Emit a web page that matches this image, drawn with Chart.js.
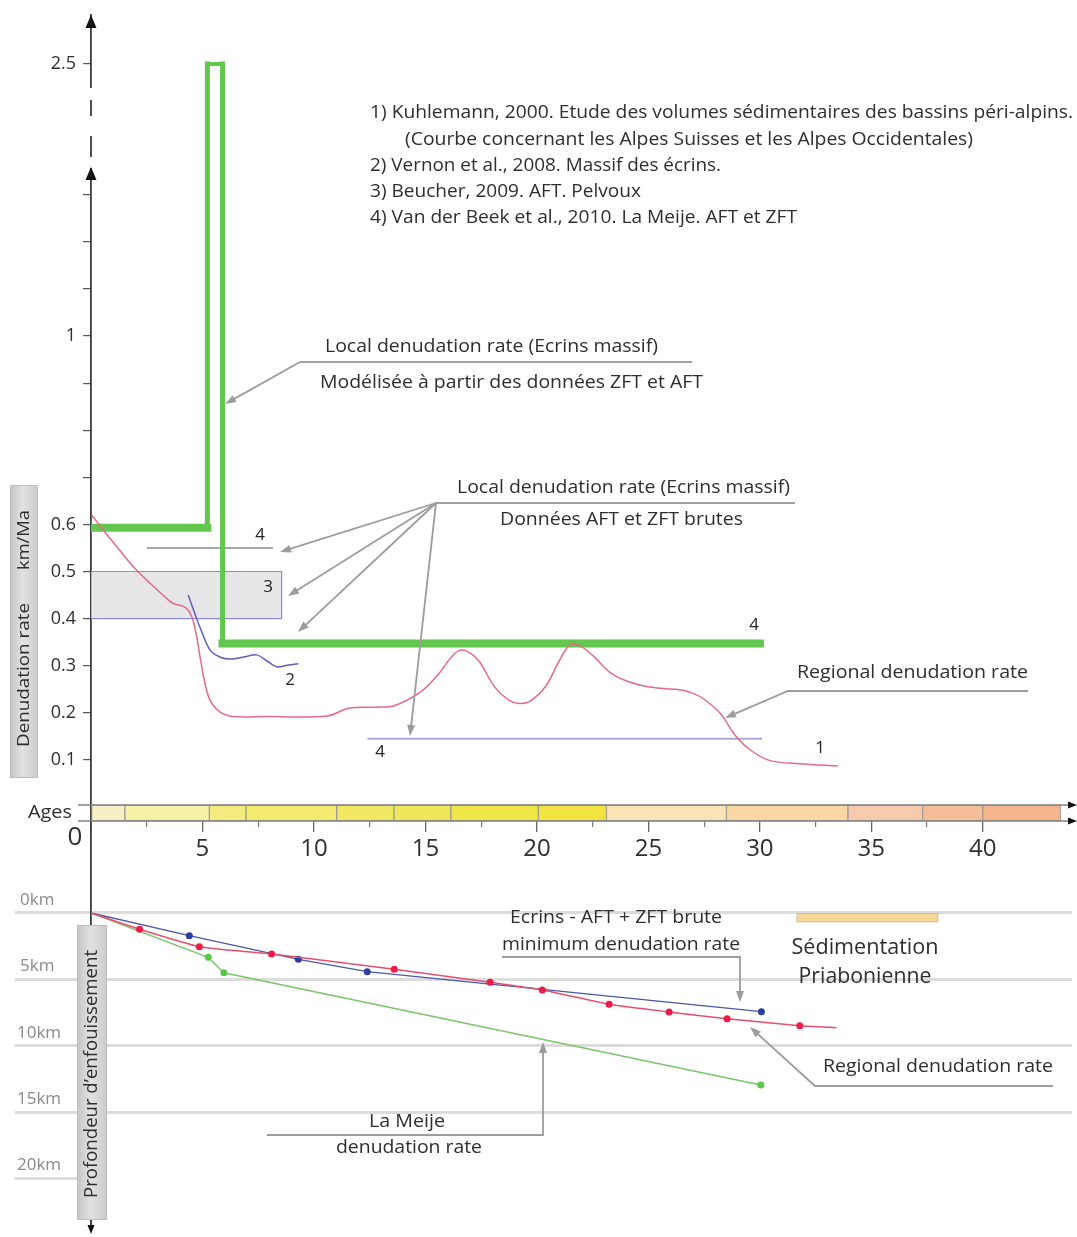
<!DOCTYPE html>
<html><head><meta charset="utf-8">
<script src="https://cdn.jsdelivr.net/npm/chart.js@4.4.1/dist/chart.umd.min.js"></script>
<style>html,body{margin:0;padding:0;background:#fff}canvas{display:block}</style>
</head><body>
<div style="width:1077px;height:1237px"><canvas id="c" width="1077" height="1237"></canvas></div>
<script>
const FONT = '"Open Sans", "Noto Sans", "DejaVu Sans", sans-serif';

// ---------------- data ----------------
// 1) Kuhlemann 2000 - regional denudation rate (km/Ma) vs age (Ma)
const regionalRateAges = [0.03, 0.55, 1.15, 1.9, 2.65, 3.39, 3.69, 4.22, 4.52, 4.74, 4.89, 5.11, 5.34, 5.78, 6.38, 7.88, 10.57, 11.6, 12.8, 13.6, 14.8, 15.6, 16.1, 16.5, 16.9, 17.4, 18.1, 18.7, 19.2, 19.7, 20.4, 21.0, 21.5, 22.0, 22.5, 23.3, 24.0, 24.7, 25.5, 26.4, 26.9, 27.4, 28.2, 28.9, 29.6, 30.5, 31.8, 33.5];
const regionalRateValues = [0.62, 0.588, 0.553, 0.51, 0.475, 0.443, 0.432, 0.424, 0.404, 0.362, 0.319, 0.263, 0.227, 0.202, 0.192, 0.192, 0.193, 0.21, 0.212, 0.215, 0.245, 0.283, 0.315, 0.332, 0.33, 0.31, 0.255, 0.228, 0.22, 0.225, 0.257, 0.31, 0.345, 0.34, 0.322, 0.285, 0.268, 0.258, 0.252, 0.249, 0.243, 0.232, 0.2, 0.152, 0.12, 0.098, 0.092, 0.087];
// 2) Vernon et al. 2008
const vernonAges = [4.36, 4.9, 5.34, 5.8, 6.23, 6.8, 7.43, 7.9, 8.33, 8.8, 9.3];
const vernonRates = [0.45, 0.38, 0.333, 0.318, 0.314, 0.318, 0.323, 0.31, 0.298, 0.301, 0.304];
// 3) Beucher 2009 (range box)
const beucherAges = [0, 8.55];
const beucherRates = [0.4, 0.5];
// 4) Van der Beek et al. 2010
const meijeAftAges = [2.5, 8.17];
const meijeAftRates = [0.55, 0.55];
const meijeLowAges = [12.4, 30.1];
const meijeLowRates = [0.145, 0.145];
// Modelled local denudation rate (Ecrins massif)
const modelAges = [0, 5.22, 5.22, 5.9, 5.9, 30.0];
const modelRates = [0.593, 0.593, 2.5, 2.5, 0.347, 0.347];
// Stratigraphic age band
const stageStarts = [0, 1.52, 5.31, 6.95, 11.02, 13.59, 16.14, 20.06, 23.12, 28.5, 33.95, 37.3, 40.0];
const stageEnds   = [1.52, 5.31, 6.95, 11.02, 13.59, 16.14, 20.06, 23.12, 28.5, 33.95, 37.3, 40.0, 43.5];
// Burial depth (km) vs age (Ma)
const regionalDepthAges = [0, 2.18, 4.86, 8.1, 13.6, 17.9, 20.24, 23.24, 25.93, 28.53, 31.79, 33.44];
const regionalDepthKm   = [0, 1.23, 2.54, 3.09, 4.24, 5.22, 5.80, 6.88, 7.46, 7.97, 8.49, 8.64];
const ecrinsDepthAges = [0, 4.41, 9.3, 12.39, 30.07];
const ecrinsDepthKm   = [0, 1.71, 3.49, 4.42, 7.44];
const meijeDepthAges = [0, 5.26, 5.96, 30.04];
const meijeDepthKm   = [0, 3.34, 4.50, 12.96];
const sedimentationAges = [31.65, 38.0];
const sedimentationDepthKm = 0.35;
// Tick values
const rateTicks = [0.1, 0.2, 0.3, 0.4, 0.5, 0.6, 0.7, 0.8, 0.9, 1, 1.1, 1.2, 1.3, 2.5];
const rateTickLabels = [0.1, 0.2, 0.3, 0.4, 0.5, 0.6, 1, 2.5];
const ageMajorTicks = [0, 5, 10, 15, 20, 25, 30, 35, 40];
const ageMinorTicks = [2.5, 7.5, 12.5, 17.5, 22.5, 27.5, 32.5, 37.5];
const depthTicks = [0, 5, 10, 15, 20];

// ---------------- styles ----------------
const stageColors = ['#f7f0c6', '#f6f1a8', '#f5ec80', '#f3ea6e', '#f2e864', '#f2e65a', '#f1e648', '#f1e440', '#fbe3b8', '#f9d8a3', '#f6cbab', '#f4be98', '#f4b58c'];

// ---------------- broken (compressed above 1.4) linear scale ----------------
const LinearScale = Chart.LinearScale || Chart.registry.getScale('linear');
const BREAK_AT = 1.4, BREAK_K = 0.1614;
class BrokenLinearScale extends LinearScale {
  fwd(v) { return v <= BREAK_AT ? v : BREAK_AT + (v - BREAK_AT) * BREAK_K; }
  inv(t) { return t <= BREAK_AT ? t : BREAK_AT + (t - BREAK_AT) / BREAK_K; }
  getPixelForValue(v) { return super.getPixelForValue(this.fwd(v)); }
  getValueForPixel(p) { return this.inv(super.getValueForPixel(p)); }
}
BrokenLinearScale.id = 'brokenLinear';
BrokenLinearScale.defaults = {};
Chart.register(BrokenLinearScale);

const pts = (xs, ys) => xs.map((x, i) => ({x, y: ys[i]}));
const boxPts = [
  {x: beucherAges[0], y: beucherRates[0]}, {x: beucherAges[1], y: beucherRates[0]},
  {x: beucherAges[1], y: beucherRates[1]}, {x: beucherAges[0], y: beucherRates[1]},
  {x: beucherAges[0], y: beucherRates[0]}
];

// ---------------- drawing helpers ----------------
function txt(ctx, s, x, y, size, w, align, color) {
  ctx.save();
  ctx.font = size + 'px ' + FONT;
  ctx.fillStyle = color || '#2e2e2e';
  ctx.textBaseline = 'middle';
  ctx.textAlign = 'left';
  const m = ctx.measureText(s).width;
  const ww = w || m;
  const k = ww / m;
  const left = align === 'center' ? x - ww / 2 : (align === 'right' ? x - ww : x);
  ctx.translate(left, y);
  ctx.scale(k, 1);
  ctx.fillText(s, 0, 0);
  ctx.restore();
}
function vtxt(ctx, s, cx, cy, size, w) {
  ctx.save(); ctx.translate(cx, cy); ctx.rotate(-Math.PI / 2);
  txt(ctx, s, 0, 0, size, w, 'center', '#2e2e2e');
  ctx.restore();
}
function poly(ctx, p, color, lw) {
  ctx.save(); ctx.strokeStyle = color; ctx.lineWidth = lw; ctx.beginPath();
  ctx.moveTo(p[0][0], p[0][1]);
  for (let i = 1; i < p.length; i++) ctx.lineTo(p[i][0], p[i][1]);
  ctx.stroke(); ctx.restore();
}
function head(ctx, tx, ty, fx, fy, len, hw, color) {
  const dx = tx - fx, dy = ty - fy, L = Math.hypot(dx, dy), ux = dx / L, uy = dy / L;
  const bx = tx - ux * len, by = ty - uy * len;
  ctx.save(); ctx.fillStyle = color; ctx.beginPath();
  ctx.moveTo(tx, ty); ctx.lineTo(bx - uy * hw, by + ux * hw); ctx.lineTo(bx + uy * hw, by - ux * hw);
  ctx.closePath(); ctx.fill(); ctx.restore();
}
function arrow(ctx, p, color, lw) {
  const c = color || '#9c9c9c';
  const n = p.length, a = p[n - 2], b = p[n - 1];
  const dx = b[0] - a[0], dy = b[1] - a[1], L = Math.hypot(dx, dy);
  const q = p.slice(0, n - 1).concat([[b[0] - dx / L * 8, b[1] - dy / L * 8]]);
  poly(ctx, q, c, lw || 1.8);
  head(ctx, b[0], b[1], a[0], a[1], 11, 4, c);
}
function vbox(ctx, x, y, w, h) {
  const g = ctx.createLinearGradient(x, 0, x + w, 0);
  g.addColorStop(0, '#c4c4c4'); g.addColorStop(0.45, '#e2e2e2'); g.addColorStop(1, '#cbcbcb');
  ctx.save(); ctx.fillStyle = g; ctx.fillRect(x, y, w, h);
  ctx.strokeStyle = '#bcbcbc'; ctx.lineWidth = 1; ctx.strokeRect(x + 0.5, y + 0.5, w - 1, h - 1);
  ctx.restore();
}

const overlay = {
  id: 'overlay',
  afterDraw(chart) {
    const ctx = chart.ctx;
    const sx = chart.scales.x, sd = chart.scales.yd, st = chart.scales.yt;
    const ax = sx.getPixelForValue(0);
    const axisCol = '#3c3c3c';
    // axis break (dashed) and arrowheads
    ctx.save();
    ctx.fillStyle = '#fff'; ctx.fillRect(ax - 4, 88, 8, 80);
    ctx.restore();
    poly(ctx, [[ax, 100], [ax, 116]], axisCol, 1.8);
    poly(ctx, [[ax, 136], [ax, 157]], axisCol, 1.8);
    head(ctx, ax, 15, ax, 40, 13, 5.5, '#111');
    head(ctx, ax, 167, ax, 190, 13, 5.5, '#111');
    // band outline lines with right arrows
    const bt = st.getPixelForValue(1), bb = st.getPixelForValue(0);
    poly(ctx, [[ax - 13, bt], [1068, bt]], '#808080', 1.6);
    poly(ctx, [[ax - 13, bb], [1068, bb]], '#808080', 1.6);
    head(ctx, 1077, bt, 1060, bt, 9, 3.5, '#111');
    head(ctx, 1077, bb, 1060, bb, 9, 3.5, '#111');
    txt(ctx, 'Ages', 28, (bt + bb) / 2, 18, 44, 'left');
    txt(ctx, '0', ax - 16, 838, 26, null, 'center');
    // depth labels and the 20 km stub
    depthTicks.forEach(d => {
      const y = sd.getPixelForValue(d);
      txt(ctx, d + 'km', d >= 10 ? 17 : 20, y - 13, 17, null, 'left', '#8a8a8a');
    });
    poly(ctx, [[15, sd.getPixelForValue(20)], [80, sd.getPixelForValue(20)]], '#dcdcdc', 3);
    // grey axis title boxes
    vbox(ctx, 10, 485, 28, 293);
    vtxt(ctx, 'Denudation rate', 24, 675, 17, 144);
    vtxt(ctx, 'km/Ma', 24, 540, 17, 60);
    vbox(ctx, 77, 925, 30, 295);
    vtxt(ctx, 'Profondeur d\u2019enfouissement', 92, 1074, 18, 248);
    head(ctx, ax, 1234, ax, 1220, 9, 3.5, '#111');
    poly(ctx, [[ax, 1220], [ax, 1226]], axisCol, 1.5);
    // reference list
    txt(ctx, '1) Kuhlemann, 2000. Etude des volumes s\u00e9dimentaires des bassins p\u00e9ri-alpins.', 370, 113, 18, 703);
    txt(ctx, '(Courbe concernant les Alpes Suisses et les Alpes Occidentales)', 405, 140, 18, 568);
    txt(ctx, '2) Vernon et al., 2008. Massif des \u00e9crins.', 370, 166, 18, 351);
    txt(ctx, '3) Beucher, 2009. AFT. Pelvoux', 370, 192, 18, 271);
    txt(ctx, '4) Van der Beek et al., 2010. La Meije. AFT et ZFT', 370, 218, 18, 427);
    // annotation: modelled local rate
    txt(ctx, 'Local denudation rate (Ecrins massif)', 325, 347, 18, 333);
    poly(ctx, [[300, 362], [692, 362]], '#a0a0a0', 1.8);
    txt(ctx, 'Mod\u00e9lis\u00e9e \u00e0 partir des donn\u00e9es ZFT et AFT', 320, 383, 18, 383);
    arrow(ctx, [[300, 362], [225, 404]]);
    // annotation: raw local data
    txt(ctx, 'Local denudation rate (Ecrins massif)', 457, 488, 18, 333);
    poly(ctx, [[436, 503], [795, 503]], '#a0a0a0', 1.8);
    txt(ctx, 'Donn\u00e9es AFT et ZFT brutes', 500, 520, 18, 243);
    arrow(ctx, [[436, 503], [280, 552]]);
    arrow(ctx, [[436, 503], [288, 596]]);
    arrow(ctx, [[436, 503], [298, 632]]);
    arrow(ctx, [[436, 503], [410, 736]]);
    // annotation: regional rate (top)
    txt(ctx, 'Regional denudation rate', 797, 673, 18, 231);
    arrow(ctx, [[1028, 691], [788, 691], [725, 718]]);
    // curve numbers
    [['4', 260, 535], ['3', 268, 587], ['2', 290, 680], ['4', 754, 625], ['4', 380, 752], ['1', 820, 748]]
      .forEach(a => txt(ctx, a[0], a[1], a[2], 17, null, 'center', '#222'));
    // bottom annotations
    txt(ctx, 'Ecrins - AFT + ZFT brute', 510, 918, 18, 212);
    txt(ctx, 'minimum denudation rate', 502, 945, 18, 238);
    arrow(ctx, [[502, 957], [740, 957], [740, 1002]]);
    txt(ctx, 'S\u00e9dimentation', 865, 948, 21, 147, 'center');
    txt(ctx, 'Priabonienne', 865, 977, 21, 133, 'center');
    txt(ctx, 'Regional denudation rate', 823, 1067, 18, 230);
    arrow(ctx, [[1053, 1086], [815, 1086], [750, 1027]]);
    txt(ctx, 'La Meije', 407, 1122, 18, 76, 'center');
    txt(ctx, 'denudation rate', 409, 1148, 18, 146, 'center');
    arrow(ctx, [[267, 1135], [543, 1135], [543, 1042]]);
  }
};

const fixLeft = w => s => { s.width = w; s.paddingTop = 0; s.paddingBottom = 0; };

new Chart(document.getElementById('c'), {
  type: 'line',
  data: {
    datasets: [
      {label: '3) Beucher 2009', data: boxPts, fill: 'shape', backgroundColor: '#e6e6e9', borderColor: '#8b8bd9', borderWidth: 1.2, pointRadius: 0, tension: 0, order: 10},
      {label: '4) Van der Beek 2010', data: pts(meijeAftAges, meijeAftRates), borderColor: '#8a8a8a', borderWidth: 1.6, pointRadius: 0, order: 9},
      {label: '4) Van der Beek 2010 (b)', data: pts(meijeLowAges, meijeLowRates), borderColor: '#a9a9da', borderWidth: 2, pointRadius: 0, order: 8},
      {label: 'Modelled local rate', data: pts(modelAges, modelRates), borderColor: '#63c64f', borderWidth: 6, borderCapStyle: 'square', borderJoinStyle: 'miter', pointRadius: 0, tension: 0, order: 5,
        segment: {borderWidth: c => c.p0.parsed.y > 2 && c.p1.parsed.y > 2 ? 4 : (c.p0.parsed.y === c.p1.parsed.y ? 8 : 5)}},
      {label: '1) Kuhlemann 2000', data: pts(regionalRateAges, regionalRateValues), borderColor: '#e46a88', borderWidth: 1.5, pointRadius: 0, tension: 0.35, order: 2},
      {label: '2) Vernon 2008', data: pts(vernonAges, vernonRates), borderColor: '#5f5fb8', borderWidth: 1.5, pointRadius: 0, tension: 0.3, order: 1},
      {type: 'bar', label: 'Ages', indexAxis: 'y', xAxisID: 'x', yAxisID: 'yt', data: stageStarts.map((s, i) => ({x: [s, stageEnds[i]], y: 0.5})),
        backgroundColor: stageColors, borderColor: '#9a9a9a', borderWidth: 1, borderSkipped: false, barThickness: 16, grouped: false, order: 20},
      {type: 'bar', label: 'Sédimentation Priabonienne', indexAxis: 'y', xAxisID: 'x', yAxisID: 'yd', data: [{x: sedimentationAges, y: sedimentationDepthKm}],
        backgroundColor: '#f7d898', borderColor: '#c9b58e', borderWidth: 1, borderSkipped: false, barThickness: 9, grouped: false, order: 20},
      {label: 'La Meije', yAxisID: 'yd', data: pts(meijeDepthAges, meijeDepthKm), borderColor: '#7cc56c', borderWidth: 1.5, pointRadius: c => c.dataIndex === 0 ? 0 : 3.5, pointBackgroundColor: '#58c748', pointBorderWidth: 0, tension: 0, order: 7},
      {label: 'Ecrins', yAxisID: 'yd', data: pts(ecrinsDepthAges, ecrinsDepthKm), borderColor: '#4b56a9', borderWidth: 1.3, pointRadius: c => c.dataIndex === 0 ? 0 : 3.5, pointBackgroundColor: '#2c3ea0', pointBorderWidth: 0, tension: 0, order: 6},
      {label: 'Regional', yAxisID: 'yd', data: pts(regionalDepthAges, regionalDepthKm), borderColor: '#e4506c', borderWidth: 1.5,
        pointRadius: c => (c.dataIndex === 0 || c.dataIndex === regionalDepthAges.length - 1) ? 0 : 3.5, pointBackgroundColor: '#ee1a48', pointBorderWidth: 0, tension: 0.15, order: 4}
    ]
  },
  options: {
    responsive: false, maintainAspectRatio: false, animation: false, events: [],
    layout: {padding: {top: 15, bottom: 7, left: 0, right: 5}},
    plugins: {legend: {display: false}, tooltip: {enabled: false}},
    scales: {
      x: {type: 'linear', min: 0, max: 44, bounds: 'data', offset: false, position: {yt: 0},
        afterBuildTicks: s => { s.ticks = ageMajorTicks.map(v => ({value: v})); },
        ticks: {autoSkip: false, maxRotation: 0, color: '#2e2e2e', font: {family: FONT, size: 24}, padding: 3, callback: v => v === 0 ? '' : String(v)},
        grid: {drawOnChartArea: false, offset: false, tickLength: 11, color: '#666', lineWidth: 1.3}, border: {display: false}},
      xm: {type: 'linear', min: 0, max: 44, bounds: 'data', offset: false, position: {yt: 0},
        afterBuildTicks: s => { s.ticks = ageMinorTicks.map(v => ({value: v})); },
        ticks: {display: false}, grid: {drawOnChartArea: false, offset: false, tickLength: 6, color: '#777', lineWidth: 1.2}, border: {display: false}},
      y: {type: 'brokenLinear', position: 'left', weight: 1, min: -0.898, max: 1.6815, bounds: 'data', offset: false,
        afterBuildTicks: s => { s.ticks = rateTicks.map(v => ({value: v})); },
        afterFit: fixLeft(91),
        ticks: {autoSkip: false, color: '#2e2e2e', font: {family: FONT, size: 18}, padding: 7, callback: v => rateTickLabels.includes(v) ? String(v) : ''},
        grid: {drawOnChartArea: false, offset: false, tickLength: 8, color: '#555', lineWidth: 1.2},
        border: {display: true, color: '#3c3c3c', width: 1.8}},
      yd: {type: 'linear', position: 'left', weight: 0, reverse: true, min: -67.67, max: 23.89, bounds: 'data', offset: false,
        afterBuildTicks: s => { s.ticks = depthTicks.filter(d => d < 20).map(v => ({value: v})); },
        afterFit: fixLeft(0),
        ticks: {display: false}, grid: {drawOnChartArea: true, offset: false, tickLength: 76, color: '#dcdcdc', lineWidth: 3}, border: {display: false}},
      yt: {type: 'linear', position: 'left', display: false, offset: false, grid: {offset: false}, min: -25.5625, max: 50.375, bounds: 'data'}
    }
  },
  plugins: [overlay]
});
</script>
</body></html>
